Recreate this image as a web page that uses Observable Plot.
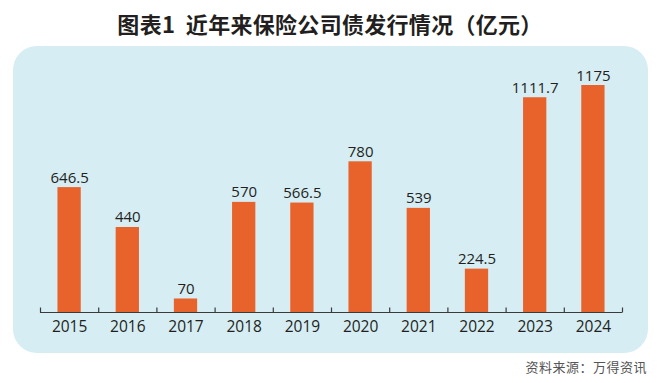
<!DOCTYPE html>
<html>
<head>
<meta charset="utf-8">
<script src="https://cdn.jsdelivr.net/npm/d3@7"></script>
<script src="https://cdn.jsdelivr.net/npm/@observablehq/plot@0.6"></script>
<style>
  html, body { margin: 0; padding: 0; background: #ffffff; }
  #wrap { position: relative; width: 660px; height: 383px; overflow: hidden; background: #fff; }
  #title { position: absolute; left: 0; top: 6px; width: 660px; text-align: center;
    font-family: "Noto Sans CJK SC", sans-serif; font-weight: 700; font-size: 22px; color: #231f20; line-height: 34px; letter-spacing: 0.3px; }
  #panel { position: absolute; left: 13px; top: 46px; width: 635px; height: 307px;
    background: #d6edf4; border-radius: 24px; }
  #chart { position: absolute; left: 0; top: 0; }
  #source { position: absolute; right: 13px; top: 357px;
    font-family: "Noto Sans CJK SC", serif; font-size: 13px; color: #555; letter-spacing: 0.5px; }
</style>
</head>
<body>
<div id="wrap">
  <div id="panel"></div>
  <div id="chart"></div>
  <div id="title">图表1&nbsp;&nbsp;近年来保险公司债发行情况（亿元）</div>
  <div id="source">资料来源：万得资讯</div>
</div>
<script>
const years = [2015, 2016, 2017, 2018, 2019, 2020, 2021, 2022, 2023, 2024];
const values = [646.5, 440, 70, 570, 566.5, 780, 539, 224.5, 1111.7, 1175];
const valueLabels = ["646.5", "440", "70", "570", "566.5", "780", "539", "224.5", "1111.7", "1175"];

const data = years.map((y, i) => ({year: y, value: values[i], label: valueLabels[i]}));
const boundaries = years.map(y => y - 0.5).concat([years[years.length - 1] + 0.5]);

// upward tick symbol: a vertical segment from the anchor point upward
const tickUp = {
  draw(context, size) {
    const r = Math.sqrt(size / Math.PI);
    context.moveTo(0, -r);
    context.lineTo(0, 0);
  }
};

const chart = Plot.plot({
  width: 660,
  height: 383,
  marginLeft: 40,
  marginRight: 38,
  marginTop: 85,
  marginBottom: 71,
  style: {background: "transparent", fontFamily: "'Open Sans', sans-serif"},
  x: {domain: [years[0] - 0.5, years[years.length - 1] + 0.5], axis: null},
  y: {domain: [0, 1175], axis: null},
  marks: [
    Plot.rectY(data, {x1: d => d.year - 0.2, x2: d => d.year + 0.2, y1: 0, y2: "value", fill: "#e8632b"}),
    Plot.ruleY([0], {stroke: "#3a3a3a", strokeWidth: 1}),
    Plot.dot(boundaries, {x: d => d, y: 0, symbol: tickUp, r: 5, stroke: "#3a3a3a", strokeWidth: 1.2, fill: "none"}),
    Plot.text(data, {x: "year", y: 0, text: d => String(d.year), dy: 15, fontSize: 15.5, fill: "#231f20"}),
    Plot.text(data, {x: "year", y: "value", text: "label", dy: -5, lineAnchor: "bottom", fontSize: 15, fill: "#231f20"})
  ]
});
document.getElementById("chart").appendChild(chart);
</script>
</body>
</html>
